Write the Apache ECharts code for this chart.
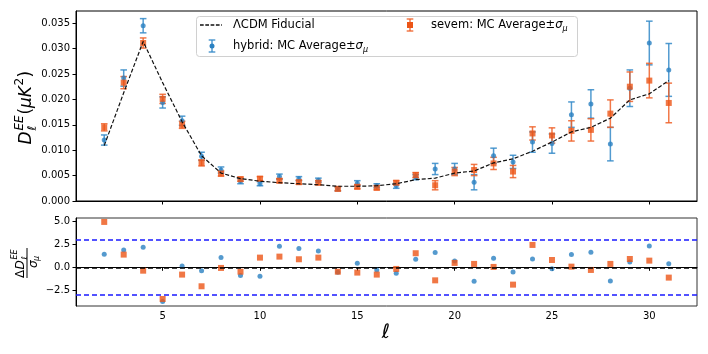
<!DOCTYPE html>
<html>
<head>
<meta charset="utf-8">
<script src="https://cdn.jsdelivr.net/npm/echarts@6/dist/echarts.min.js"></script>
<style>
  html, body { margin: 0; padding: 0; background: #fff; }
  #chart { width: 708px; height: 354px; }
</style>
</head>
<body>
<div id="chart"></div>
<script>
// multipoles
const ells = [2, 3, 4, 5, 6, 7, 8, 9, 10, 11, 12, 13, 14, 15, 16, 17, 18, 19, 20, 21, 22, 23, 24, 25, 26, 27, 28, 29, 30, 31];

// LCDM fiducial D_l^EE
const fiducial = [0.0109, 0.0213, 0.0314, 0.0233, 0.0156, 0.0089, 0.0055, 0.0044, 0.0039, 0.0036,
  0.0034, 0.0032, 0.0029, 0.0029, 0.0030, 0.0034, 0.0042, 0.0045, 0.0055, 0.0059,
  0.0075, 0.0083, 0.0098, 0.0116, 0.0136, 0.0145, 0.0163, 0.0199, 0.0211, 0.0237];

// hybrid MC average and sigma
const hybridMean = [0.0120, 0.0242, 0.0345, 0.0194, 0.0158, 0.0088, 0.0061, 0.0039, 0.0034, 0.0048,
  0.0044, 0.0041, 0.0024, 0.0035, 0.0030, 0.0030, 0.0047, 0.0063, 0.0063, 0.0037,
  0.0089, 0.0077, 0.0116, 0.0113, 0.0170, 0.0191, 0.0112, 0.0222, 0.0311, 0.0258];
const hybridSigma = [0.0010, 0.0016, 0.0014, 0.0011, 0.0009, 0.0008, 0.0006, 0.0005, 0.0004, 0.0005,
  0.0004, 0.0004, 0.0004, 0.0005, 0.0004, 0.0005, 0.0005, 0.0011, 0.0011, 0.0015,
  0.0015, 0.0013, 0.0020, 0.0019, 0.0025, 0.0028, 0.0033, 0.0036, 0.0043, 0.0052];

// sevem MC average and sigma
const sevemMean = [0.0145, 0.0233, 0.0311, 0.0201, 0.0150, 0.0075, 0.0054, 0.0043, 0.0044, 0.0040,
  0.0037, 0.0036, 0.0024, 0.0028, 0.0026, 0.0036, 0.0051, 0.0031, 0.0058, 0.0061,
  0.0074, 0.0058, 0.0133, 0.0129, 0.0138, 0.0140, 0.0172, 0.0225, 0.0237, 0.0193];
const sevemSigma = [0.0007, 0.0012, 0.0010, 0.0009, 0.0007, 0.0006, 0.0005, 0.0004, 0.0004, 0.0004,
  0.0004, 0.0004, 0.0004, 0.0004, 0.0004, 0.0004, 0.0005, 0.0009, 0.0008, 0.0011,
  0.0012, 0.0012, 0.0013, 0.0015, 0.0020, 0.0022, 0.0027, 0.0029, 0.0034, 0.0039];

// residuals (Delta D / sigma)
const hybridResid = [1.43, 1.90, 2.19, -3.76, 0.15, -0.37, 1.06, -0.91, -0.99, 2.30,
  2.05, 1.79, -0.55, 0.44, -0.29, -0.66, 0.88, 1.61, 0.69, -1.54,
  0.99, -0.51, 0.91, -0.15, 1.39, 1.64, -1.50, 0.58, 2.34, 0.40];
const sevemResid = [4.97, 1.39, -0.37, -3.47, -0.80, -2.08, -0.07, -0.48, 1.06, 1.17,
  0.88, 1.06, -0.48, -0.58, -0.80, -0.18, 1.54, -1.43, 0.48, 0.37,
  0.04, -1.90, 2.45, 0.80, 0.07, -0.29, 0.37, 0.91, 0.73, -1.13];

// ticks
const xTicks = [5, 10, 15, 20, 25, 30];
const yTicksTop = [0, 0.005, 0.01, 0.015, 0.02, 0.025, 0.03, 0.035];
const yTicksBottom = [-2.5, 0, 2.5, 5];
const sigmaLines = [3, -3];

const FONT = 'DejaVu Sans';
const BLUE = '#2a81c2';
const BLUE_ERR = 'rgba(52,138,200,0.85)';
const ORANGE = '#ec5517';
const ORANGE_ERR = 'rgba(238,96,40,0.85)';

const chart = echarts.init(document.getElementById('chart'));

function errorSeries(mean, sigma, color) {
  return {
    type: 'custom',
    xAxisIndex: 0,
    yAxisIndex: 0,
    silent: true,
    data: ells.map((l, i) => [l, mean[i] - sigma[i], mean[i] + sigma[i]]),
    encode: { x: 0, y: [1, 2] },
    renderItem: function (params, api) {
      const top = api.coord([api.value(0), api.value(2)]);
      const bot = api.coord([api.value(0), api.value(1)]);
      const c = 3.3;
      const st = { stroke: color, lineWidth: 1.5 };
      return {
        type: 'group',
        children: [
          { type: 'line', shape: { x1: top[0], y1: top[1], x2: bot[0], y2: bot[1] }, style: st },
          { type: 'line', shape: { x1: top[0] - c, y1: top[1], x2: top[0] + c, y2: top[1] }, style: st },
          { type: 'line', shape: { x1: bot[0] - c, y1: bot[1], x2: bot[0] + c, y2: bot[1] }, style: st }
        ]
      };
    }
  };
}

const axisLineStyle = { show: true, lineStyle: { color: '#000', width: 1 } };
const tickStyle = { show: true, length: 3.5, lineStyle: { color: '#000', width: 1 } };

const labelText = (x, y, text, size, italic) => ({
  type: 'text', x: x, y: y, silent: true,
  style: {
    text: text, fontSize: size, fontFamily: FONT, fontStyle: italic ? 'italic' : 'normal',
    fill: '#000', align: 'left', verticalAlign: 'middle'
  }
});

const legendRich = {
  a: { fontSize: 11.5, fontFamily: FONT, fill: '#000', lineHeight: 15 },
  s: { fontSize: 11.5, fontFamily: FONT, fontStyle: 'italic', fill: '#000', lineHeight: 15 },
  u: { fontSize: 8, fontFamily: FONT, fontStyle: 'italic', fill: '#000', lineHeight: 9, verticalAlign: 'bottom' }
};

const option = {
  animation: false,
  backgroundColor: '#fff',
  grid: [
    { left: 76, top: 11, width: 621, height: 190, show: true, borderColor: '#000', borderWidth: 1 },
    { left: 76, top: 218, width: 621, height: 88, show: true, borderColor: '#333', borderWidth: 1 }
  ],
  xAxis: [
    {
      type: 'value', gridIndex: 0, min: 0.55, max: 32.45,
      axisLine: axisLineStyle, splitLine: { show: false },
      axisTick: Object.assign({ customValues: xTicks }, tickStyle),
      axisLabel: { show: false }
    },
    {
      type: 'value', gridIndex: 1, min: 0.55, max: 32.45,
      axisLine: axisLineStyle, splitLine: { show: false },
      axisTick: Object.assign({ customValues: xTicks }, tickStyle),
      axisLabel: { customValues: xTicks, fontSize: 10, fontFamily: FONT, color: '#000', margin: 5 }
    }
  ],
  yAxis: [
    {
      type: 'value', gridIndex: 0, min: 0, max: 0.0374,
      axisLine: axisLineStyle, splitLine: { show: false },
      axisTick: Object.assign({ customValues: yTicksTop }, tickStyle),
      axisLabel: {
        customValues: yTicksTop, fontSize: 10, fontFamily: FONT, color: '#000', margin: 6,
        formatter: v => v.toFixed(3)
      }
    },
    {
      type: 'value', gridIndex: 1, min: -4.24, max: 5.4,
      axisLine: axisLineStyle, splitLine: { show: false },
      axisTick: Object.assign({ customValues: yTicksBottom }, tickStyle),
      axisLabel: {
        customValues: yTicksBottom, fontSize: 10, fontFamily: FONT, color: '#000', margin: 6,
        formatter: v => v.toFixed(1).replace('-', '\u2212')
      }
    }
  ],
  series: [
    {
      name: 'fiducial', type: 'line', xAxisIndex: 0, yAxisIndex: 0,
      data: ells.map((l, i) => [l, fiducial[i]]),
      showSymbol: false, symbol: 'none', silent: true,
      lineStyle: { color: '#111', width: 1.2, type: [4, 2] }
    },
    errorSeries(hybridMean, hybridSigma, BLUE_ERR),
    {
      type: 'scatter', xAxisIndex: 0, yAxisIndex: 0, silent: true,
      data: ells.map((l, i) => [l, hybridMean[i]]),
      symbol: 'circle', symbolSize: 5, itemStyle: { color: BLUE }
    },
    errorSeries(sevemMean, sevemSigma, ORANGE_ERR),
    {
      type: 'scatter', xAxisIndex: 0, yAxisIndex: 0, silent: true,
      data: ells.map((l, i) => [l, sevemMean[i]]),
      symbol: 'rect', symbolSize: 6, itemStyle: { color: ORANGE }
    },
    // residual panel
    {
      type: 'scatter', xAxisIndex: 1, yAxisIndex: 1, silent: true,
      data: ells.map((l, i) => [l, hybridResid[i]]),
      symbol: 'circle', symbolSize: 5, itemStyle: { color: BLUE },
      markLine: {
        silent: true, symbol: 'none', label: { show: false },
        lineStyle: { color: '#1a1aff', width: 1.5, type: [5, 3] },
        data: sigmaLines.map(v => ({ yAxis: v }))
      }
    },
    {
      type: 'scatter', xAxisIndex: 1, yAxisIndex: 1, silent: true,
      data: ells.map((l, i) => [l, sevemResid[i]]),
      symbol: 'rect', symbolSize: 6, itemStyle: { color: ORANGE },
      markLine: {
        silent: true, symbol: 'none', label: { show: false },
        lineStyle: { color: '#000', width: 1.5, type: [5, 3] },
        data: [{ yAxis: 0 }]
      }
    }
  ],
  graphic: [
    // legend
    {
      type: 'group', z: 100, silent: true,
      children: [
        {
          type: 'rect', z: 100,
          shape: { x: 196.5, y: 16.5, width: 381, height: 40, r: 3 },
          style: { fill: 'rgba(255,255,255,0.85)', stroke: '#d0d0d0', lineWidth: 1 }
        },
        { type: 'line', z: 101, shape: { x1: 200, y1: 25, x2: 222, y2: 25 }, style: { stroke: '#111', lineWidth: 1.4, lineDash: [3.7, 1.6] } },
        { type: 'line', z: 101, shape: { x1: 212, y1: 40, x2: 212, y2: 52 }, style: { stroke: BLUE_ERR, lineWidth: 1.5 } },
        { type: 'line', z: 101, shape: { x1: 208.7, y1: 40, x2: 215.3, y2: 40 }, style: { stroke: BLUE_ERR, lineWidth: 1.5 } },
        { type: 'line', z: 101, shape: { x1: 208.7, y1: 52, x2: 215.3, y2: 52 }, style: { stroke: BLUE_ERR, lineWidth: 1.5 } },
        { type: 'circle', z: 101, shape: { cx: 212, cy: 46, r: 2.5 }, style: { fill: BLUE } },
        { type: 'line', z: 101, shape: { x1: 410, y1: 19, x2: 410, y2: 31 }, style: { stroke: ORANGE_ERR, lineWidth: 1.5 } },
        { type: 'line', z: 101, shape: { x1: 406.7, y1: 19, x2: 413.3, y2: 19 }, style: { stroke: ORANGE_ERR, lineWidth: 1.5 } },
        { type: 'line', z: 101, shape: { x1: 406.7, y1: 31, x2: 413.3, y2: 31 }, style: { stroke: ORANGE_ERR, lineWidth: 1.5 } },
        { type: 'rect', z: 101, shape: { x: 407, y: 22, width: 6, height: 6 }, style: { fill: ORANGE } },
        Object.assign(labelText(233, 25, '\u039bCDM Fiducial', 11.5, false), { z: 101 }),
        {
          type: 'text', z: 101, x: 233, y: 46,
          style: {
            text: '{a|hybrid: MC Average\u00b1}{s|\u03c3}{u|\u03bc}', verticalAlign: 'middle', align: 'left',
            rich: legendRich
          }
        },
        {
          type: 'text', z: 101, x: 431, y: 25,
          style: {
            text: '{a|sevem: MC Average\u00b1}{s|\u03c3}{u|\u03bc}', verticalAlign: 'middle', align: 'left',
            rich: legendRich
          }
        }
      ]
    },
    // top y-axis label: D_l^EE (muK^2)
    {
      type: 'group', x: 27, y: 107.5, rotation: Math.PI / 2, silent: true,
      children: [
        labelText(-37, 0, 'D', 17, true),
        labelText(-23, 6, '\u2113', 12, true),
        labelText(-23, -7, 'EE', 12, true),
        labelText(-7, 0, '(', 17, false),
        labelText(-0.5, 0, '\u03bcK', 17, true),
        labelText(22, -7, '2', 12, false),
        labelText(30, 0, ')', 17, false)
      ]
    },
    // bottom y-axis label: Delta D_l^EE / sigma_mu
    {
      type: 'group', x: 27, y: 263, rotation: Math.PI / 2, silent: true,
      children: [
        labelText(-15, -6, '\u0394', 12, false),
        labelText(-6.5, -6, 'D', 12, true),
        labelText(3.5, -12, 'EE', 8, true),
        labelText(3.5, -2.5, '\u2113', 8, true),
        { type: 'line', shape: { x1: -15, y1: 0, x2: 15, y2: 0 }, style: { stroke: '#000', lineWidth: 1 } },
        labelText(-5, 7, '\u03c3', 12, true),
        labelText(2, 9.5, '\u03bc', 8, true)
      ]
    },
    // x-axis label
    {
      type: 'text', x: 386, y: 333, silent: true,
      style: { text: '\u2113', fontSize: 20, fontFamily: FONT, fontStyle: 'italic', fill: '#000', align: 'center', verticalAlign: 'middle' }
    }
  ]
};

chart.setOption(option);
</script>
</body>
</html>
